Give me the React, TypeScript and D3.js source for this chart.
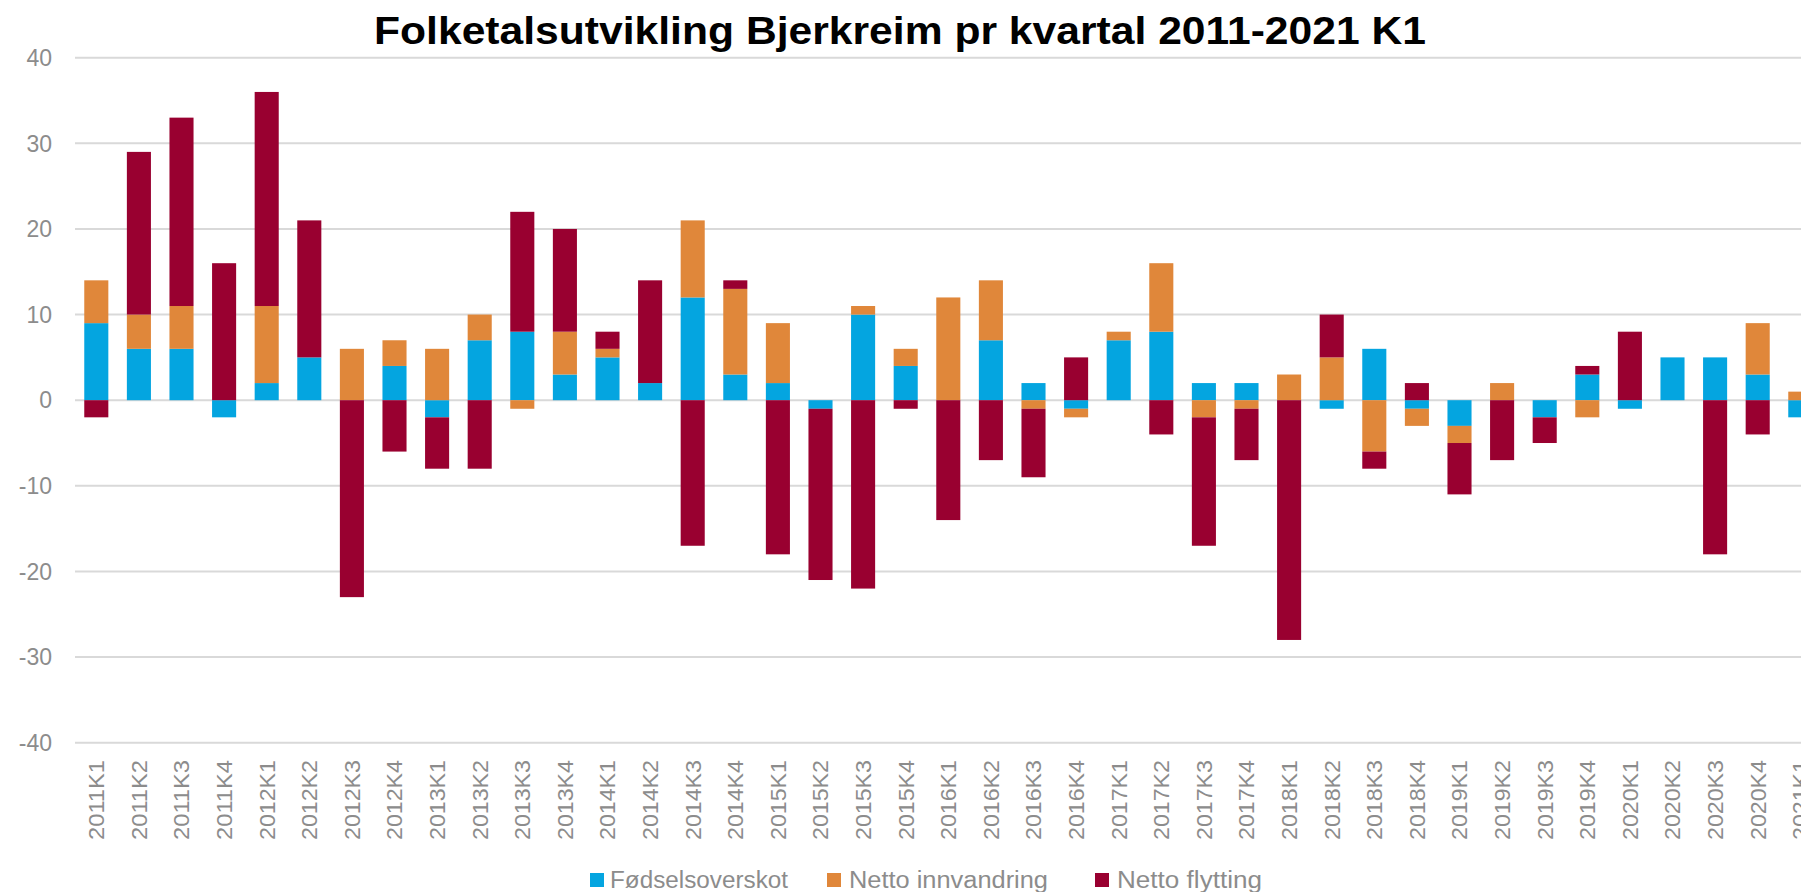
import React from 'react';
import * as d3 from 'd3';

const categories = [
  '2011K1','2011K2','2011K3','2011K4',
  '2012K1','2012K2','2012K3','2012K4',
  '2013K1','2013K2','2013K3','2013K4',
  '2014K1','2014K2','2014K3','2014K4',
  '2015K1','2015K2','2015K3','2015K4',
  '2016K1','2016K2','2016K3','2016K4',
  '2017K1','2017K2','2017K3','2017K4',
  '2018K1','2018K2','2018K3','2018K4',
  '2019K1','2019K2','2019K3','2019K4',
  '2020K1','2020K2','2020K3','2020K4',
  '2021K1',
];

const fodselsoverskot = [
  9, 6, 6, -2,
  2, 5, 0, 4,
  -2, 7, 8, 3,
  5, 2, 12, 3,
  2, -1, 10, 4,
  0, 7, 2, -1,
  7, 8, 2, 2,
  0, -1, 6, -1,
  -3, 0, -2, 3,
  -1, 5, 5, 3,
  -2,
];

const nettoInnvandring = [
  5, 4, 5, 0,
  9, 0, 6, 3,
  6, 3, -1, 5,
  1, 0, 9, 10,
  7, 0, 1, 2,
  12, 7, -1, -1,
  1, 8, -2, -1,
  3, 5, -6, -2,
  -2, 2, 0, -2,
  0, 0, 0, 6,
  1,
];

const nettoFlytting = [
  -2, 19, 22, 16,
  25, 16, -23, -6,
  -6, -8, 14, 12,
  2, 12, -17, 1,
  -18, -20, -22, -1,
  -14, -7, -8, 5,
  0, -4, -15, -6,
  -28, 5, -2, 2,
  -6, -7, -3, 1,
  8, 0, -18, -4,
  0,
];

const seriesNames = ['Fødselsoverskot', 'Netto innvandring', 'Netto flytting'];
const yTicks = [-40, -30, -20, -10, 0, 10, 20, 30, 40];
const title = 'Folketalsutvikling  Bjerkreim pr kvartal 2011-2021 K1';

const COLORS = ['#04A5E0', '#E0873A', '#990030'];
const W = 1801;
const H = 892;

export default function App() {
  const rows = categories.map((c, i) => ({
    cat: c,
    [seriesNames[0]]: fodselsoverskot[i],
    [seriesNames[1]]: nettoInnvandring[i],
    [seriesNames[2]]: nettoFlytting[i],
  }));

  const stack = d3
    .stack<any>()
    .keys(seriesNames)
    .offset(d3.stackOffsetDiverging);
  const stacked = stack(rows);

  const left = 75;
  const step = 42.6;
  const x = d3
    .scaleBand<string>()
    .domain(categories)
    .range([left, left + step * categories.length])
    .paddingInner(0.435)
    .paddingOuter(0.2175);

  const y = d3.scaleLinear().domain([-40, 40]).range([742.7, 57.7]);

  const tickFont = '"Liberation Sans", Arial, sans-serif';

  const legendItems = [
    { sq: 590, tx: 610, len: 178 },
    { sq: 827, tx: 849, len: 199 },
    { sq: 1095, tx: 1117, len: 145 },
  ];

  return (
    <>
      <style>{`body{margin:0;overflow:hidden;}`}</style>
      <svg width={W} height={H} style={{ display: 'block', background: '#fff' }}>
        <text
          x={900}
          y={44}
          textAnchor="middle"
          fontFamily={tickFont}
          fontWeight="bold"
          fontSize={39}
          fill="#000"
          textLength={1052}
          lengthAdjust="spacingAndGlyphs"
        >
          {title}
        </text>

        {yTicks.map((t) => (
          <g key={t}>
            <line
              x1={left}
              x2={W}
              y1={y(t)}
              y2={y(t)}
              stroke="#d9d9d9"
              strokeWidth={2}
            />
            <text
              x={52}
              y={y(t)}
              dy="0.36em"
              textAnchor="end"
              fontFamily={tickFont}
              fontSize={23}
              fill="#8c8c8c"
            >
              {t}
            </text>
          </g>
        ))}

        {stacked.map((s, si) => (
          <g key={s.key} fill={COLORS[si]}>
            {s.map((d, i) => {
              const y0 = y(d[0]);
              const y1 = y(d[1]);
              const h = Math.abs(y0 - y1);
              if (h < 0.01) return null;
              return (
                <rect
                  key={categories[i]}
                  x={x(categories[i])}
                  y={Math.min(y0, y1)}
                  width={x.bandwidth()}
                  height={h}
                />
              );
            })}
          </g>
        ))}

        {categories.map((c) => {
          const cx = (x(c) as number) + x.bandwidth() / 2;
          return (
            <text
              key={c}
              transform={`translate(${cx},760) rotate(-90)`}
              dy="0.36em"
              textAnchor="end"
              fontFamily={tickFont}
              fontSize={22}
              fill="#8c8c8c"
              textLength={80}
              lengthAdjust="spacingAndGlyphs"
            >
              {c}
            </text>
          );
        })}

        {seriesNames.map((n, i) => (
          <g key={n}>
            <rect
              x={legendItems[i].sq}
              y={873}
              width={14}
              height={14}
              fill={COLORS[i]}
            />
            <text
              x={legendItems[i].tx}
              y={888}
              fontFamily={tickFont}
              fontSize={23}
              fill="#8c8c8c"
              textLength={legendItems[i].len}
              lengthAdjust="spacingAndGlyphs"
            >
              {n}
            </text>
          </g>
        ))}
      </svg>
    </>
  );
}
